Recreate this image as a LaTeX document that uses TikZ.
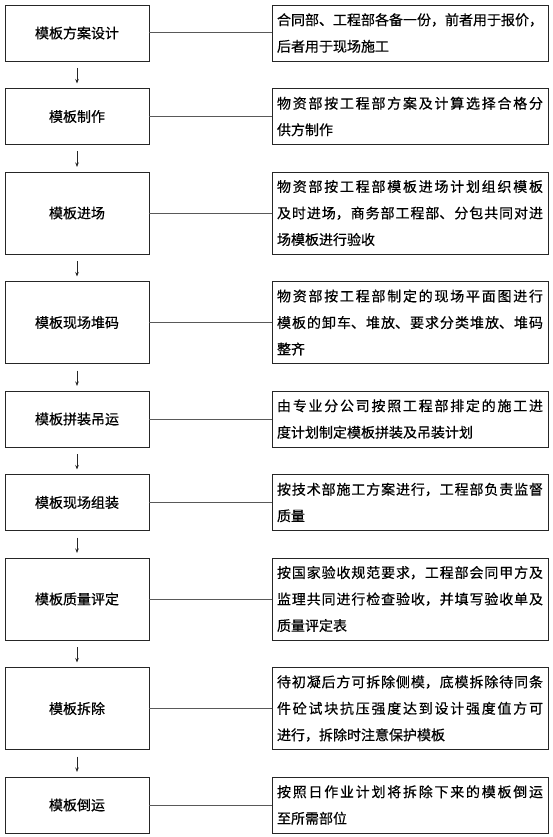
\documentclass[tikz,border=0pt]{standalone}
\usepackage{fontspec}
\newfontfamily\zh{Noto Sans CJK SC}[FakeBold=0.5]
\XeTeXlinebreaklocale "zh"
\XeTeXlinebreakskip=0pt plus 3pt minus 1pt
\usetikzlibrary{arrows.meta, positioning}

\begin{document}
\begin{tikzpicture}[x=1pt, y=-1pt,
  >={Stealth[length=4.5pt, width=3.5pt]}, node distance=27.5pt and 123pt,
  stage/.style={draw=black!85, line width=0.9pt, outer sep=0pt, minimum width=144pt,
                minimum height=56pt, align=center, font=\zh\fontsize{14}{26.5}\selectfont},
  note/.style={draw=black!85, line width=0.9pt, outer sep=0pt, minimum width=276pt,
               minimum height=56pt, inner xsep=5pt, inner ysep=1pt, text width=266pt,
               align=justify, font=\zh\fontsize{14}{26.5}\selectfont},
  tall/.style={minimum height=82pt},
  link/.style={draw=black!65, line width=1pt},
  flow/.style={->, line width=0.7pt, draw=black!85}]
  \useasboundingbox (0,0) rectangle (553,837);

  \node[stage, anchor=north west] (design) at (5,5) {模板方案设计};
  \node[stage, below=of design] (make) {模板制作};
  \node[stage, tall, below=of make] (enter) {模板进场};
  \node[stage, tall, below=of enter] (stack) {模板现场堆码};
  \node[stage, below=of stack] (lift) {模板拼装吊运};
  \node[stage, below=of lift] (build) {模板现场组装};
  \node[stage, tall, below=of build] (check) {模板质量评定};
  \node[stage, tall, below=of check] (strip) {模板拆除};
  \node[stage, below=of strip] (reuse) {模板倒运};

  \node[note, right=of design] (designnote) {合同部、工程部各备一份，前者用于报价，\linebreak 后者用于现场施工};
  \node[note, right=of make] (makenote) {物资部按工程部方案及计算选择合格分\linebreak 供方制作};
  \node[note, tall, right=of enter] (enternote) {物资部按工程部模板进场计划组织模板\linebreak 及时进场，商务部工程部、分包共同对进\linebreak 场模板进行验收};
  \node[note, tall, right=of stack] (stacknote) {物资部按工程部制定的现场平面图进行\linebreak 模板的卸车、堆放、要求分类堆放、堆码\linebreak 整齐};
  \node[note, right=of lift] (liftnote) {由专业分公司按照工程部排定的施工进\linebreak 度计划制定模板拼装及吊装计划};
  \node[note, right=of build] (buildnote) {按技术部施工方案进行，工程部负责监督\linebreak 质量};
  \node[note, tall, right=of check] (checknote) {按国家验收规范要求，工程部会同甲方及\linebreak 监理共同进行检查验收，并填写验收单及\linebreak 质量评定表};
  \node[note, tall, right=of strip] (stripnote) {待初凝后方可拆除侧模，底模拆除待同条\linebreak 件砼试块抗压强度达到设计强度值方可\linebreak 进行，拆除时注意保护模板};
  \node[note, right=of reuse] (reusenote) {按照日作业计划将拆除下来的模板倒运\linebreak 至所需部位};

  % side notes
  \draw[link] (design) -- (designnote);
  \draw[link] (make) -- (makenote);
  \draw[link] (enter) -- (enternote);
  \draw[link] (stack) -- (stacknote);
  \draw[link] (lift) -- (liftnote);
  \draw[link] (build) -- (buildnote);
  \draw[link] (check) -- (checknote);
  \draw[link] (strip) -- (stripnote);
  \draw[link] (reuse) -- (reusenote);

  % main flow
  \draw[flow] ([yshift=-7pt]design.south) -- ([yshift=5pt]make.north);
  \draw[flow] ([yshift=-7pt]make.south) -- ([yshift=5pt]enter.north);
  \draw[flow] ([yshift=-7pt]enter.south) -- ([yshift=5pt]stack.north);
  \draw[flow] ([yshift=-7pt]stack.south) -- ([yshift=5pt]lift.north);
  \draw[flow] ([yshift=-7pt]lift.south) -- ([yshift=5pt]build.north);
  \draw[flow] ([yshift=-7pt]build.south) -- ([yshift=5pt]check.north);
  \draw[flow] ([yshift=-7pt]check.south) -- ([yshift=5pt]strip.north);
  \draw[flow] ([yshift=-7pt]strip.south) -- ([yshift=5pt]reuse.north);
\end{tikzpicture}
\end{document}
